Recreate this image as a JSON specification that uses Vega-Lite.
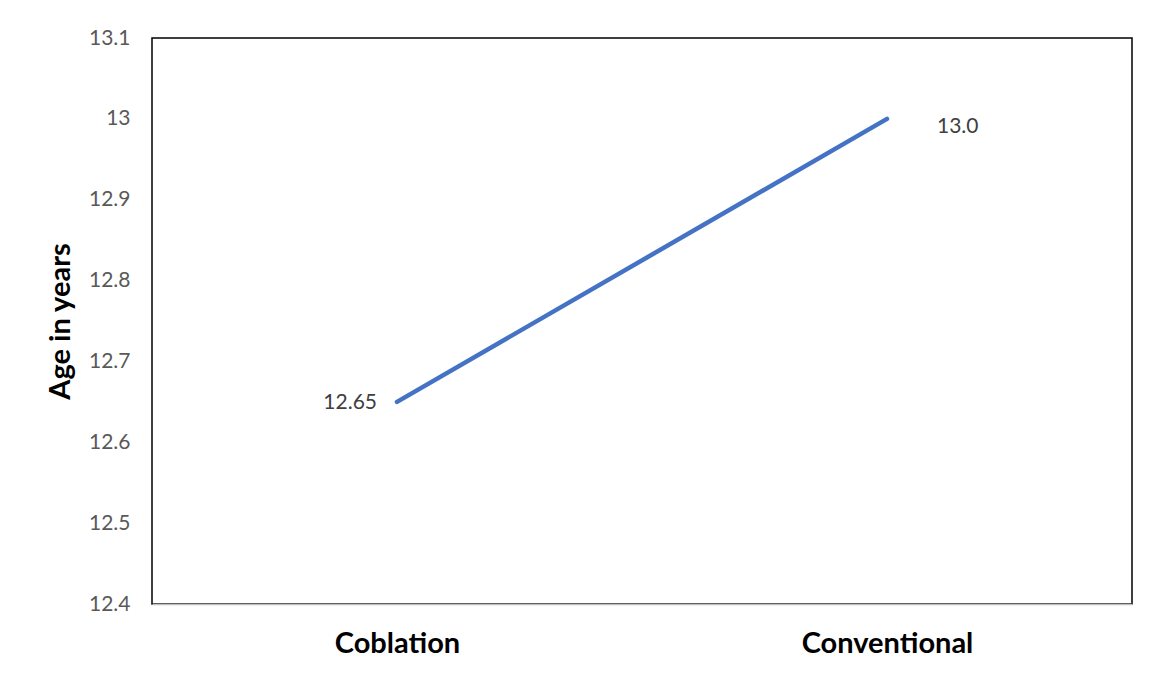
{
  "$schema": "https://vega.github.io/schema/vega-lite/v6.json",
  "autosize": {"type": "none"},
  "width": 980,
  "height": 566,
  "padding": {"left": 152, "top": 38, "right": 20, "bottom": 71},
  "background": "white",
  "config": {
    "font": "Lato",
    "view": {"stroke": "#000000", "strokeWidth": 1.5}
  },
  "data": {
    "values": [
      {"technique": "Coblation", "age": 12.65, "label": "12.65"},
      {"technique": "Conventional", "age": 13.0, "label": "13.0"}
    ]
  },
  "encoding": {
    "x": {
      "field": "technique",
      "type": "ordinal",
      "sort": null,
      "scale": {"type": "point", "padding": 0.5},
      "axis": {
        "title": null,
        "labelAngle": 0,
        "labelFont": "Lato",
        "labelFontSize": 29,
        "labelFontWeight": "bold",
        "labelColor": "#000000",
        "labelPadding": 25,
        "ticks": false,
        "domainColor": "#BFBFBF",
        "domainWidth": 1.5,
        "grid": false
      }
    },
    "y": {
      "field": "age",
      "type": "quantitative",
      "scale": {"domain": [12.4, 13.1], "nice": false, "zero": false},
      "axis": {
        "title": "Age in years",
        "titleFont": "Lato",
        "titleFontSize": 29,
        "titleFontWeight": "bold",
        "titleColor": "#000000",
        "titleX": -77,
        "titleBaseline": "bottom",
        "values": [12.4, 12.5, 12.6, 12.7, 12.8, 12.9, 13.0, 13.1],
        "format": ".1~f",
        "labelFont": "Lato",
        "labelFontSize": 21,
        "labelColor": "#595959",
        "labelPadding": 22,
        "ticks": false,
        "domain": false,
        "grid": false
      }
    }
  },
  "layer": [
    {
      "mark": {"type": "line", "color": "#4472C4", "strokeWidth": 4.5, "strokeCap": "round"}
    },
    {
      "transform": [{"filter": "datum.technique === 'Coblation'"}],
      "mark": {"type": "text", "align": "right", "baseline": "middle", "dx": -20, "dy": 1, "fontSize": 21, "font": "Lato", "color": "#404040"},
      "encoding": {"text": {"field": "label"}}
    },
    {
      "transform": [{"filter": "datum.technique === 'Conventional'"}],
      "mark": {"type": "text", "align": "left", "baseline": "middle", "dx": 50, "dy": 8, "fontSize": 21, "font": "Lato", "color": "#404040"},
      "encoding": {"text": {"field": "label"}}
    }
  ]
}
